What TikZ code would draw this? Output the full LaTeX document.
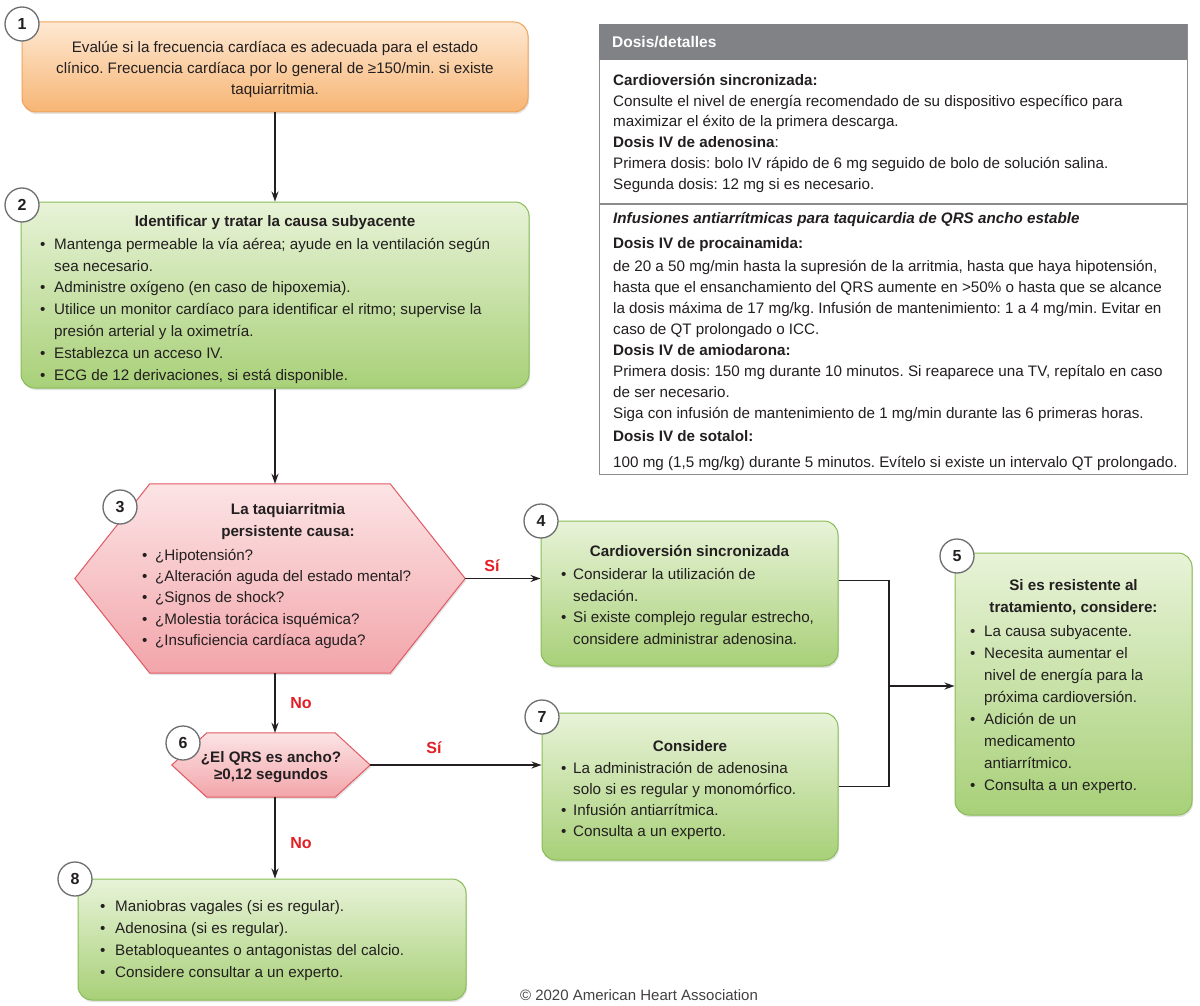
\documentclass[tikz,border=0pt]{standalone}
\usepackage{fontspec}
\setmainfont{Liberation Sans}
\usetikzlibrary{shadows,arrows.meta,calc}
\definecolor{ink}{HTML}{231F20}
\definecolor{orT}{HTML}{FEE8D2}
\definecolor{orB}{HTML}{F7B574}
\definecolor{orD}{HTML}{EFA35A}
\definecolor{grT}{HTML}{E8F3D8}
\definecolor{grB}{HTML}{A8D078}
\definecolor{grD}{HTML}{88BC56}
\definecolor{pkT}{HTML}{FCE4E5}
\definecolor{pkB}{HTML}{F2A5AA}
\definecolor{pkD}{HTML}{E05A64}
\definecolor{redl}{HTML}{E31E24}
\definecolor{hdr}{HTML}{808285}
\definecolor{frm}{HTML}{8C8C8C}
\definecolor{circ}{HTML}{6D6E71}
\newlength{\bw}
\setlength{\bw}{14pt}
\newcommand{\bul}{\makebox[\bw][l]{\textbullet}}
\newcommand{\ind}{\makebox[\bw]{}}
\tikzset{
  box/.style={draw, rounded corners=14pt, line width=1pt, inner sep=0pt,
    drop shadow={opacity=0.22, shadow xshift=1pt, shadow yshift=-2pt}},
  obox/.style={box, draw=orD, top color=orT, bottom color=orB},
  gbox/.style={box, draw=grD, top color=grT, bottom color=grB},
  hexs/.style={draw=pkD, line width=1pt, top color=pkT, bottom color=pkB,
    drop shadow={opacity=0.22, shadow xshift=1pt, shadow yshift=-2pt}},
  num/.style={circle, draw=circ, fill=white, line width=1.3pt, minimum size=34pt,
    inner sep=0pt, font=\fontsize{16}{16}\selectfont\bfseries, text=ink},
  txt/.style={inner sep=0pt, text=ink, font=\fontsize{15.2}{21.8}\selectfont, align=left},
  ttl/.style={inner sep=0pt, text=ink, font=\fontsize{15.2}{22}\selectfont\bfseries, align=center},
  blist/.style={txt, anchor=north west},
  arr/.style={-{Stealth[length=10pt,width=7pt]}, line width=1.6pt, draw=ink},
  ln/.style={line width=1.6pt, draw=ink},
  lab/.style={text=redl, font=\fontsize{16}{16}\selectfont\bfseries, inner sep=0pt},
}
\begin{document}
\frenchspacing
\begin{tikzpicture}[x=1pt,y=-1pt]
\useasboundingbox (0,0) rectangle (1200,1006);
\fill[white] (0,0) rectangle (1200,1006);

% ---------- Box 1
\node[obox, minimum width=506pt, minimum height=90pt] (b1) at (275,67) {};
\node[txt, align=center, font=\fontsize{15.2}{21}\selectfont] (t1) at (275,69) {Evalúe si la frecuencia cardíaca es adecuada para el estado\\clínico. Frecuencia cardíaca por lo general de ≥150/min. si existe\\taquiarritmia.};
\node[num] (c1) at (22,24) {1};

% ---------- Box 2
\node[gbox, minimum width=508pt, minimum height=186pt] (b2) at (275,295) {};
\node[ttl] (t2) at (275,223) {Identificar y tratar la causa subyacente};
\node[blist] (l2) at (40,238) {\bul Mantenga permeable la vía aérea; ayude en la ventilación según\\
\ind sea necesario.\\
\bul Administre oxígeno (en caso de hipoxemia).\\
\bul Utilice un monitor cardíaco para identificar el ritmo; supervise la\\
\ind presión arterial y la oximetría.\\
\bul Establezca un acceso IV.\\
\bul ECG de 12 derivaciones, si está disponible.};
\node[num] (c2) at (22,205) {2};

% ---------- Hexagon 3
\node[minimum width=390pt, minimum height=189pt, inner sep=0pt] (h3) at (270,578.5) {};
\path[hexs] ($(h3.north west)+(75,0)$) -- ($(h3.north east)+(-75,0)$) -- (h3.east)
  -- ($(h3.south east)+(-75,0)$) -- ($(h3.south west)+(75,0)$) -- (h3.west) -- cycle;
\node[ttl] (t3) at (288,522) {La taquiarritmia\\persistente causa:};
\node[blist, execute at begin node={\setlength{\bw}{13pt}}, font=\fontsize{15.2}{21.3}\selectfont] (l3) at (142,549) {\bul ¿Hipotensión?\\
\bul ¿Alteración aguda del estado mental?\\
\bul ¿Signos de shock?\\
\bul ¿Molestia torácica isquémica?\\
\bul ¿Insuficiencia cardíaca aguda?};
\node[num] (c3) at (120,507) {3};

% ---------- Box 4
\node[gbox, minimum width=297pt, minimum height=145pt] (b4) at (689.5,593.5) {};
\node[ttl] (t4) at (689.5,551) {Cardioversión sincronizada};
\node[blist, execute at begin node={\setlength{\bw}{12pt}}] (l4) at (561,568) {\bul Considerar la utilización de\\
\ind sedación.\\
\bul Si existe complejo regular estrecho,\\
\ind considere administrar adenosina.};
\node[num] (c4) at (541,521) {4};

% ---------- Box 7
\node[gbox, minimum width=296pt, minimum height=147pt] (b7) at (690,786.5) {};
\node[ttl] (t7) at (690,746) {Considere};
\node[blist, execute at begin node={\setlength{\bw}{12pt}}, font=\fontsize{15.2}{21}\selectfont] (l7) at (561,762) {\bul La administración de adenosina\\
\ind solo si es regular y monomórfico.\\
\bul Infusión antiarrítmica.\\
\bul Consulta a un experto.};
\node[num] (c7) at (542,717) {7};

% ---------- Box 5
\node[gbox, minimum width=237pt, minimum height=262pt] (b5) at (1073.5,684) {};
\node[ttl] (t5) at (1073.5,597) {Si es resistente al\\tratamiento, considere:};
\node[blist, execute at begin node={\setlength{\bw}{14pt}}, font=\fontsize{15.2}{22}\selectfont] (l5) at (970,625) {\bul La causa subyacente.\\
\bul Necesita aumentar el\\
\ind nivel de energía para la\\
\ind próxima cardioversión.\\
\bul Adición de un\\
\ind medicamento\\
\ind antiarrítmico.\\
\bul Consulta a un experto.};
\node[num] (c5) at (957,556) {5};

% ---------- Hexagon 6
\node[minimum width=198pt, minimum height=64pt, inner sep=0pt] (h6) at (271,765) {};
\path[hexs] ($(h6.north west)+(35,0)$) -- ($(h6.north east)+(-35,0)$) -- (h6.east)
  -- ($(h6.south east)+(-35,0)$) -- ($(h6.south west)+(35,0)$) -- (h6.west) -- cycle;
\node[ttl, font=\fontsize{15.2}{17.5}\selectfont\bfseries] (t6) at (271,767) {¿El QRS es ancho?\\≥0,12 segundos};
\node[num] (c6) at (183,743) {6};

% ---------- Box 8
\node[gbox, minimum width=388pt, minimum height=121pt] (b8) at (272,939.5) {};
\node[blist, execute at begin node={\setlength{\bw}{15pt}}, font=\fontsize{15.2}{22}\selectfont] (l8) at (100,900) {\bul Maniobras vagales (si es regular).\\
\bul Adenosina (si es regular).\\
\bul Betabloqueantes o antagonistas del calcio.\\
\bul Considere consultar a un experto.};
\node[num] (c8) at (75,879) {8};

% ---------- Arrows
\draw[arr] (b1.south) -- (b2.north);
\draw[arr] (b2.south) -- (b2.south |- h3.north);
\draw[arr] (h3.east) -- (h3.east -| b4.west);
\node[lab] (s1) at (492,566) {Sí};
\draw[arr] (b2.south |- h3.south) -- (b2.south |- h6.north);
\node[lab] (n1) at (301,703) {No};
\draw[arr] (h6.east) -- (h6.east -| b7.west);
\node[lab] (s2) at (434,748) {Sí};
\draw[arr] (b2.south |- h6.south) -- (b2.south |- b8.north);
\node[lab] (n2) at (301,843) {No};
\coordinate (jn) at (889,686);
\draw[ln] ($(b4.north east)+(0,60)$) -| (jn);
\draw[ln] (b7.east) -| (jn);
\draw[arr] (jn) -- (jn -| b5.west);

% ---------- Dosis box
\node[draw=frm, line width=1.2pt, minimum width=588pt, minimum height=450pt, anchor=north west, inner sep=0pt] (dz) at (599,24) {};
\node[fill=hdr, minimum width=588pt, minimum height=36pt, anchor=north west, inner sep=0pt] (dh) at (599,24) {};
\node[inner sep=0pt, anchor=west, text=white, font=\fontsize{15.5}{15.5}\selectfont\bfseries] (dt) at (612,42) {Dosis/detalles};
\draw[frm, line width=1.2pt] (dz.west |- 0,204) -- (dz.east |- 0,204);
\node[blist, font=\fontsize{15.2}{20.8}\selectfont] (d1) at (613,74) {\textbf{Cardioversión sincronizada:}\\
Consulte el nivel de energía recomendado de su dispositivo específico para\\
maximizar el éxito de la primera descarga.\\
\textbf{Dosis IV de adenosina}:\\
Primera dosis: bolo IV rápido de 6 mg seguido de bolo de solución salina.\\
Segunda dosis: 12 mg si es necesario.};
\node[blist, font=\fontsize{15.2}{21}\selectfont] (d2) at (613,212) {\textbf{\textit{Infusiones antiarrítmicas para taquicardia de QRS ancho estable}}\\[4pt]
\textbf{Dosis IV de procainamida:}\\[2pt]
de 20 a 50 mg/min hasta la supresión de la arritmia, hasta que haya hipotensión,\\
hasta que el ensanchamiento del QRS aumente en >50\% o hasta que se alcance\\
la dosis máxima de 17 mg/kg. Infusión de mantenimiento: 1 a 4 mg/min. Evitar en\\
caso de QT prolongado o ICC.\\
\textbf{Dosis IV de amiodarona:}\\
Primera dosis: 150 mg durante 10 minutos. Si reaparece una TV, repítalo en caso\\
de ser necesario.\\
Siga con infusión de mantenimiento de 1 mg/min durante las 6 primeras horas.\\[2pt]
\textbf{Dosis IV de sotalol:}\\[5pt]
100 mg (1,5 mg/kg) durante 5 minutos. Evítelo si existe un intervalo QT prolongado.};

% ---------- Footer
\node[inner sep=0pt, text=ink!85, font=\fontsize{15}{15}\selectfont] (ft) at (639,995) {© 2020 American Heart Association};
\end{tikzpicture}
\end{document}
